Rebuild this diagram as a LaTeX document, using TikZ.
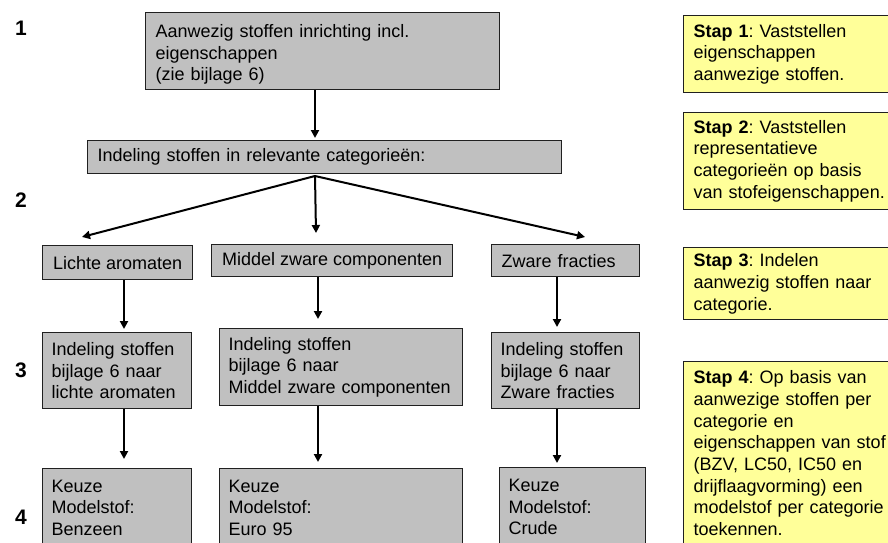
\documentclass[tikz,border=0pt]{standalone}
\usepackage{fontspec}
\setmainfont{Liberation Sans}
\usetikzlibrary{arrows.meta,calc}
\definecolor{boxgray}{HTML}{C0C0C0}
\definecolor{noteyellow}{HTML}{FFFF99}
\definecolor{edge}{HTML}{202020}
\frenchspacing
\begin{document}
\begin{tikzpicture}[x=1pt,y=-1pt,
  font=\fontsize{18}{21.7}\selectfont,
  graybox/.style={draw=edge, line width=1.3pt, fill=boxgray, anchor=north west,
    inner xsep=10pt, inner ysep=0pt, align=left},
  notebox/.style={draw=edge, line width=1.3pt, fill=noteyellow, anchor=north west,
    inner xsep=10pt, inner ysep=0pt, align=left},
  arr/.style={line width=2pt, draw=black, -{Triangle[length=8pt,width=8pt]}},
  stepnum/.style={font=\fontsize{21}{23}\selectfont\bfseries}]
\useasboundingbox (0,0) rectangle (888,542);
\clip (0,0) rectangle (888,542);
\fill[white] (0,0) rectangle (888,542);

% step numbers
\node[stepnum] (n1) at (21,28) {1};
\node[stepnum] (n2) at (21,200) {2};
\node[stepnum] (n3) at (21,370) {3};
\node[stepnum] (n4) at (21,517) {4};

% flow boxes
\node[graybox, minimum width=354pt, minimum height=77pt, text width=334pt] (top) at (145,12)
  {\rule{0pt}{20pt}Aanwezig stoffen inrichting incl.\\eigenschappen\\(zie bijlage 6)};
\node[graybox, minimum width=474pt, minimum height=33pt, text width=454pt] (cat) at (87,140)
  {Indeling stoffen in relevante categorieën:};

\node[graybox, minimum width=150pt, minimum height=34pt, inner xsep=0pt] (lichte) at (42,245)
  {Lichte aromaten};
\node[graybox, minimum width=241pt, minimum height=32pt, inner xsep=0pt] (midd) at (211,244)
  {Middel zware componenten};
\node[graybox, minimum width=148pt, minimum height=32pt, text width=128pt] (zware) at (491,244)
  {Zware fracties};

\node[graybox, minimum width=149pt, minimum height=76pt, text width=131pt, inner xsep=9pt] (ind1) at (42,332)
  {Indeling stoffen\\bijlage 6 naar\\lichte aromaten};
\node[graybox, minimum width=243pt, minimum height=77pt, text width=225pt, inner xsep=9pt] (ind2) at (219,328)
  {Indeling stoffen\\bijlage 6 naar\\Middel zware componenten};
\node[graybox, minimum width=148pt, minimum height=76pt, text width=130pt, inner xsep=9pt] (ind3) at (491,332)
  {Indeling stoffen\\bijlage 6 naar\\Zware fracties};

\node[graybox, minimum width=149pt, minimum height=78pt, text width=131pt, inner xsep=9pt] (keu1) at (42,468)
  {Keuze\\Modelstof:\\Benzeen};
\node[graybox, minimum width=243pt, minimum height=78pt, text width=225pt, inner xsep=9pt] (keu2) at (219,468)
  {Keuze\\Modelstof:\\Euro 95};
\node[graybox, minimum width=146pt, minimum height=79pt, text width=128pt, inner xsep=9pt] (keu3) at (499,467)
  {Keuze\\Modelstof:\\Crude};

% yellow notes
\node[notebox, minimum width=224pt, minimum height=77pt, text width=204pt] (s1) at (683,15)
  {\textbf{Stap 1}: Vaststellen\\eigenschappen\\aanwezige stoffen.};
\node[notebox, minimum width=224pt, minimum height=97pt, text width=204pt] (s2) at (683,112)
  {\textbf{Stap 2}: Vaststellen\\representatieve\\categorieën op basis\\van stofeigenschappen.};
\node[notebox, minimum width=224pt, minimum height=72pt, text width=204pt] (s3) at (683,247)
  {\textbf{Stap 3}: Indelen\\aanwezig stoffen naar\\categorie.};
\node[notebox, minimum width=224pt, minimum height=183pt, text width=204pt] (s4) at (683,361)
  {\textbf{Stap 4}: Op basis van\\aanwezige stoffen per\\categorie en\\eigenschappen van stof\\(BZV, LC50, IC50 en\\drijflaagvorming) een\\modelstof per categorie\\toekennen.};

% connector helpers
\coordinate (cT) at (315,0);
\coordinate (cA) at (124,0);
\coordinate (cB) at (318,0);
\coordinate (cC) at (557,0);
\coordinate (apex) at (315,176);
\coordinate (tL) at (82,237);
\coordinate (tM) at (316,233);
\coordinate (tR) at (585,237);

% connectors
\draw[arr, shorten >=2pt] (top.south -| cT) -- (cat.north -| cT);
\draw[arr] (apex) -- (tL);
\draw[arr] (apex) -- (tM);
\draw[arr] (apex) -- (tR);

\draw[arr, shorten >=3pt] (lichte.south -| cA) -- (ind1.north -| cA);
\draw[arr, shorten >=9pt] (midd.south -| cB) -- (ind2.north -| cB);
\draw[arr, shorten >=5pt] (zware.south -| cC) -- (ind3.north -| cC);

\draw[arr, shorten >=9pt] (ind1.south -| cA) -- (keu1.north -| cA);
\draw[arr, shorten >=6pt] (ind2.south -| cB) -- (keu2.north -| cB);
\draw[arr, shorten >=4pt] (ind3.south -| cC) -- (keu3.north -| cC);
\end{tikzpicture}
\end{document}
